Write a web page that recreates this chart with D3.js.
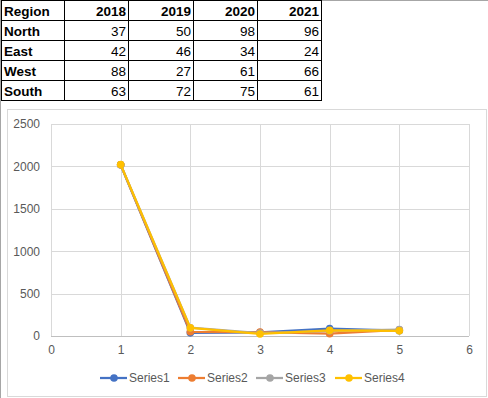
<!DOCTYPE html>
<html lang="en">
<head>
<meta charset="UTF-8"/>
<title>Region table and scatter line chart</title>
<script src="https://d3js.org/d3.v7.min.js"></script>
<style>
    body { margin: 0; background: #fff; }
    svg { display: block; font-family: "Liberation Sans", Arial, sans-serif; }
</style>
</head>
<body>
<script>
    // Table data
    var regions = ["North", "East", "West", "South"];
    var years = ["2018", "2019", "2020", "2021"];
    var tableValues = [
        [37, 50, 98, 96],
        [42, 46, 34, 24],
        [88, 27, 61, 66],
        [63, 72, 75, 61]
    ];

    // Chart data (Excel picked up the header row as the first point)
    var seriesNames = ["Series1", "Series2", "Series3", "Series4"];
    var xValues = [1, 2, 3, 4, 5];
    var series1 = [2018, 37, 42, 88, 63];
    var series2 = [2019, 50, 46, 27, 72];
    var series3 = [2020, 98, 34, 61, 75];
    var series4 = [2021, 96, 24, 66, 61];
    var xTicks = [0, 1, 2, 3, 4, 5, 6];
    var yTicks = [0, 500, 1000, 1500, 2000, 2500];

    var colours = ["#4472C4", "#ED7D31", "#A5A5A5", "#FFC000"];

    var w = 488, h = 398;

    var svg = d3.select("body").append("svg")
        .attr("width", w)
        .attr("height", h);

    // window edge lines
    svg.append("line")
        .attr("x1", 0).attr("x2", w).attr("y1", 0.5).attr("y2", 0.5)
        .attr("stroke", "#a6a6a6");
    svg.append("line")
        .attr("x1", 0.5).attr("x2", 0.5).attr("y1", 0).attr("y2", h)
        .attr("stroke", "#a6a6a6");

    // ---- table ----
    var colX = [1, 64, 128, 193, 257, 321];
    var rowH = 20;
    var table = svg.append("g").attr("font-size", 13.5);

    var rows = [["Region"].concat(years)].concat(
        regions.map((r, i) => [r].concat(tableValues[i].map(String)))
    );

    rows.forEach(function(row, ri) {
        row.forEach(function(cell, ci) {
            var x0 = colX[ci], x1 = colX[ci + 1];
            table.append("rect")
                .attr("x", x0 + 0.5)
                .attr("y", ri * rowH + 0.5)
                .attr("width", x1 - x0)
                .attr("height", rowH)
                .attr("fill", "none")
                .attr("stroke", "#000");
            table.append("text")
                .attr("x", ci === 0 ? x0 + 3 : x1 - 2)
                .attr("y", ri * rowH + 15.5)
                .attr("text-anchor", ci === 0 ? "start" : "end")
                .attr("font-weight", (ri === 0 || ci === 0) ? "bold" : "normal")
                .attr("fill", "#000")
                .text(cell);
        });
    });

    // ---- chart frame ----
    svg.append("rect")
        .attr("x", 7.5).attr("y", 109.5)
        .attr("width", 479).attr("height", 287)
        .attr("fill", "#fff")
        .attr("stroke", "#d9d9d9");

    var xScale = d3.scaleLinear().domain([0, 6]).range([51, 469]);
    var yScale = d3.scaleLinear().domain([0, 2500]).range([336, 124]);

    // gridlines
    svg.append("g")
        .selectAll("line.h")
        .data(yTicks)
        .enter().append("line")
        .attr("x1", xScale(0)).attr("x2", xScale(6))
        .attr("y1", d => Math.round(yScale(d)) + 0.5)
        .attr("y2", d => Math.round(yScale(d)) + 0.5)
        .attr("stroke", "#d9d9d9");
    svg.append("g")
        .selectAll("line.v")
        .data(xTicks)
        .enter().append("line")
        .attr("x1", d => Math.round(xScale(d)) + 0.5)
        .attr("x2", d => Math.round(xScale(d)) + 0.5)
        .attr("y1", yScale(2500)).attr("y2", yScale(0))
        .attr("stroke", "#d9d9d9");

    // axes
    var xAxis = d3.axisBottom(xScale).tickValues(xTicks).tickFormat(d3.format("d"))
        .tickSize(0).tickPadding(9);
    var yAxis = d3.axisLeft(yScale).tickValues(yTicks).tickFormat(d3.format("d"))
        .tickSize(0).tickPadding(11);

    var gx = svg.append("g")
        .attr("transform", `translate(0,${Math.round(yScale(0)) + 0.5})`)
        .call(xAxis);
    var gy = svg.append("g")
        .attr("transform", `translate(${xScale(0)},0)`)
        .call(yAxis);
    [gx, gy].forEach(function(g) {
        g.select(".domain").remove();
        g.selectAll("text")
            .attr("fill", "#595959")
            .attr("font-size", 12)
            .attr("font-family", "Liberation Sans, Arial, sans-serif");
    });
    svg.append("line")
        .attr("x1", xScale(0)).attr("x2", xScale(6))
        .attr("y1", Math.round(yScale(0)) + 0.5).attr("y2", Math.round(yScale(0)) + 0.5)
        .attr("stroke", "#bfbfbf");

    // series
    var allSeries = [series1, series2, series3, series4].map(function(vals, i) {
        return { name: seriesNames[i], colour: colours[i],
                 points: vals.map((v, j) => ({ x: xValues[j], y: v })) };
    });

    var line = d3.line()
        .x(d => xScale(d.x))
        .y(d => yScale(d.y));

    var sg = svg.append("g").selectAll("g.series")
        .data(allSeries)
        .enter().append("g");

    sg.append("path")
        .attr("d", d => line(d.points))
        .attr("fill", "none")
        .attr("stroke", d => d.colour)
        .attr("stroke-width", 2.25)
        .attr("stroke-linejoin", "round");

    sg.selectAll("circle")
        .data(d => d.points.map(p => ({ p: p, c: d.colour })))
        .enter().append("circle")
        .attr("cx", d => xScale(d.p.x))
        .attr("cy", d => yScale(d.p.y))
        .attr("r", 3.8)
        .attr("fill", d => d.c);

    // legend
    var legendX = [100, 178, 256, 335];
    var legend = svg.append("g").selectAll("g.leg")
        .data(allSeries)
        .enter().append("g")
        .attr("transform", (d, i) => `translate(${legendX[i]},378)`);
    legend.append("line")
        .attr("x1", 0).attr("x2", 27)
        .attr("stroke", d => d.colour)
        .attr("stroke-width", 2.25);
    legend.append("circle")
        .attr("cx", 14).attr("r", 3.8)
        .attr("fill", d => d.colour);
    legend.append("text")
        .attr("x", 29).attr("y", 4)
        .attr("font-size", 12)
        .attr("fill", "#595959")
        .text(d => d.name);
</script>
</body>
</html>
